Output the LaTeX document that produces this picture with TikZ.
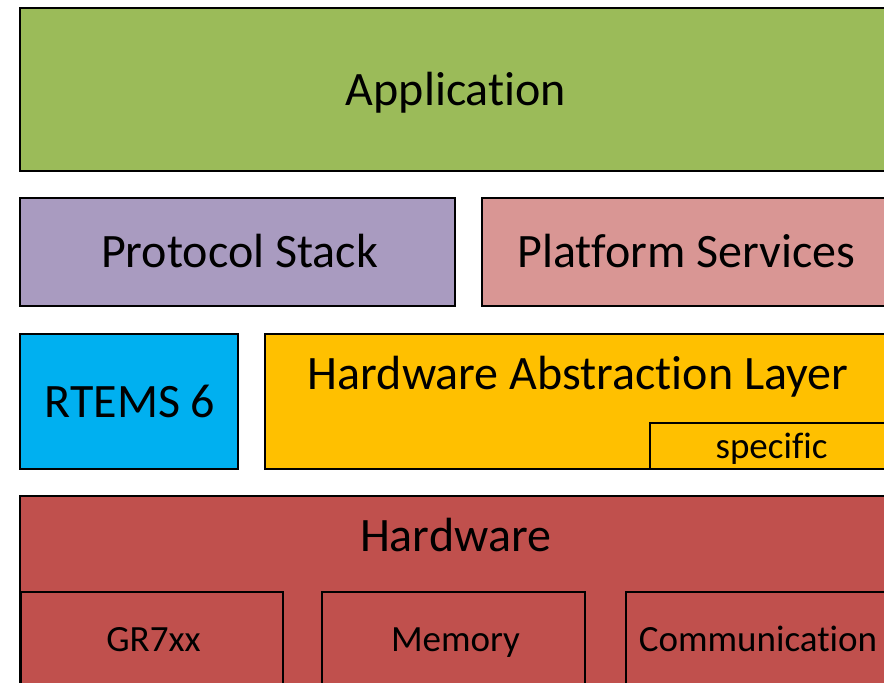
\documentclass[tikz,border=0pt]{standalone}
\usepackage{fontspec}
\setmainfont{Carlito}[Ligatures=NoCommon]
\definecolor{appgreen}{HTML}{9BBB59}
\definecolor{protopurple}{HTML}{A99BC0}
\definecolor{platpink}{HTML}{D99694}
\definecolor{rtemsblue}{HTML}{00B0F0}
\definecolor{halyellow}{HTML}{FFC000}
\definecolor{hwred}{HTML}{C0504D}
\begin{document}
\begin{tikzpicture}[x=1pt,y=-1pt,
  box/.style={draw=black, line width=1.5pt, anchor=north west, inner sep=0pt, outer sep=0pt},
  big/.style={anchor=base, inner sep=0pt, font=\fontsize{48}{48}\selectfont},
  small/.style={anchor=base, inner sep=0pt, font=\fontsize{37}{37}\selectfont}]
\useasboundingbox (0,0) rectangle (884,683);
\clip (0,0) rectangle (884,683);
% boxes
\node[box, fill=appgreen, minimum width=880pt, minimum height=163pt] (app) at (20,8) {};
\node[box, fill=protopurple, minimum width=435pt, minimum height=108pt] (proto) at (20,198) {};
\node[box, fill=platpink, minimum width=418pt, minimum height=108pt] (plat) at (482,198) {};
\node[box, fill=rtemsblue, minimum width=218pt, minimum height=135pt] (rtems) at (20,334) {};
\node[box, fill=halyellow, minimum width=635pt, minimum height=135pt] (hal) at (265,334) {};
\node[box, fill=halyellow, minimum width=250pt, minimum height=46pt] (spec) at (650,423) {};
\node[box, fill=hwred, minimum width=880pt, minimum height=204pt] (hw) at (20,496) {};
\node[box, fill=hwred, minimum width=262pt, minimum height=108pt] (gr) at (21,592) {};
\node[box, fill=hwred, minimum width=263pt, minimum height=108pt] (mem) at (322,592) {};
\node[box, fill=hwred, minimum width=274pt, minimum height=108pt] (comm) at (626,592) {};
% labels
\node[big] (tapp) at (456,105) {Application};
\node[big] (tproto) at (239.5,267) {Protocol Stack};
\node[big] (tplat) at (686.5,267) {Platform Services};
\node[big] (trtems) at (130,417) {RTEMS 6};
\node[big] (thal) at (578,389) {Hardware Abstraction Layer};
\node[small] (tspec) at (771.5,458) {specific};
\node[big] (thw) at (455.5,551) {Hardware};
\node[small] (tgr) at (153.5,651) {GR7xx};
\node[small] (tmem) at (455.5,651) {Memory};
\node[small] (tcomm) at (758,651) {Communication};
\end{tikzpicture}
\end{document}
